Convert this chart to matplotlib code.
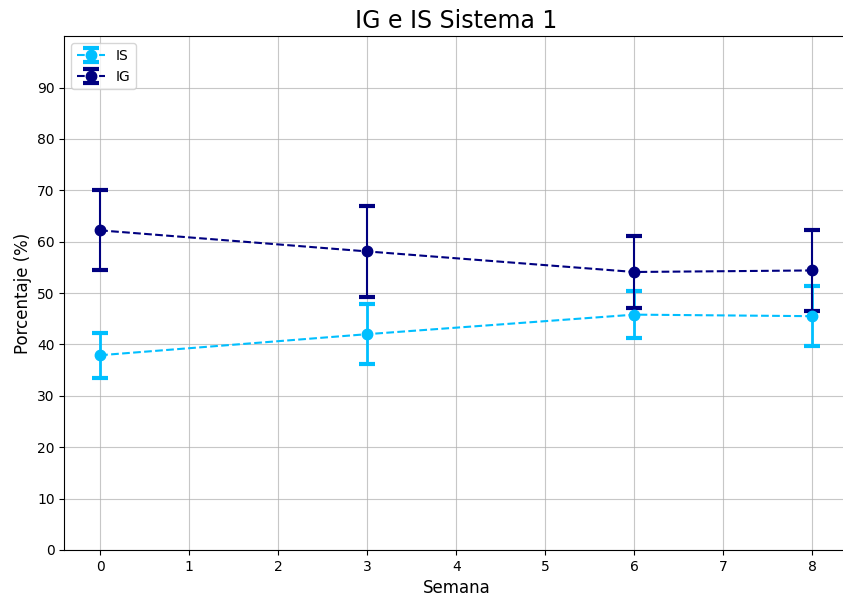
import numpy as np
import matplotlib.pyplot as plt

# datos
semanas = [0, 3, 6, 8]
is_media = [37.9, 42.0, 45.8, 45.5]
is_error = [4.4, 5.8, 4.6, 5.8]
ig_media = [62.2, 58.1, 54.1, 54.4]
ig_error = [7.8, 8.8, 7.1, 7.9]

fig, ax = plt.subplots(figsize=(8.43, 6.02), dpi=100)
fig.subplots_adjust(left=0.0765, right=1.006, bottom=0.0864, top=0.940)

ax.errorbar(semanas, is_media, yerr=is_error, fmt='o--', color='deepskyblue',
            ecolor='deepskyblue', elinewidth=2, capsize=6, capthick=3,
            markersize=7.5, linewidth=1.5, label='IS')
ax.errorbar(semanas, ig_media, yerr=ig_error, fmt='o--', color='navy',
            ecolor='navy', elinewidth=1.5, capsize=6, capthick=3,
            markersize=7.5, linewidth=1.5, label='IG')

ax.set_xlim(-0.4, 8.4)
ax.set_ylim(0, 100)
ax.set_yticks(np.arange(0, 100, 10))
ax.grid(True, color='#b0b0b0', alpha=0.7)
ax.set_title('IG e IS Sistema 1', fontsize=17)
ax.set_xlabel('Semana', fontsize=12)
ax.set_ylabel('Porcentaje (%)', fontsize=12)
ax.legend(loc='upper left')

plt.savefig('out.png')
